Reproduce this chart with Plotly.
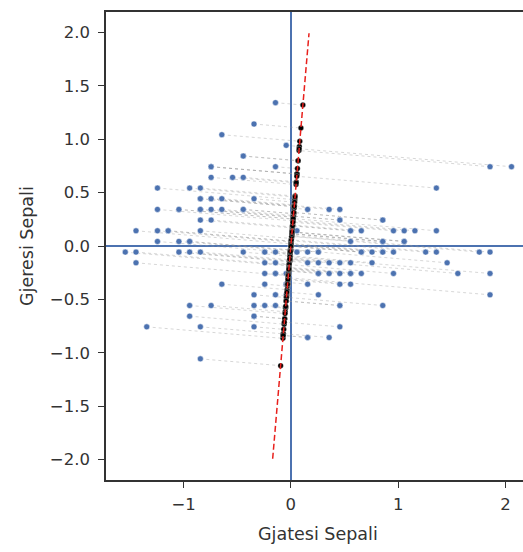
import numpy as np
import plotly.graph_objects as go

# Iris sepal measurements (cm)
sepal_length = [
    5.1, 4.9, 4.7, 4.6, 5.0, 5.4, 4.6, 5.0, 4.4, 4.9, 5.4, 4.8, 4.8, 4.3, 5.8, 5.7, 5.4, 5.1, 5.7, 5.1,
    5.4, 5.1, 4.6, 5.1, 4.8, 5.0, 5.0, 5.2, 5.2, 4.7, 4.8, 5.4, 5.2, 5.5, 4.9, 5.0, 5.5, 4.9, 4.4, 5.1,
    5.0, 4.5, 4.4, 5.0, 5.1, 4.8, 5.1, 4.6, 5.3, 5.0,
    7.0, 6.4, 6.9, 5.5, 6.5, 5.7, 6.3, 4.9, 6.6, 5.2, 5.0, 5.9, 6.0, 6.1, 5.6, 6.7, 5.6, 5.8, 6.2, 5.6,
    5.9, 6.1, 6.3, 6.1, 6.4, 6.6, 6.8, 6.7, 6.0, 5.7, 5.5, 5.5, 5.8, 6.0, 5.4, 6.0, 6.7, 6.3, 5.6, 5.5,
    5.5, 6.1, 5.8, 5.0, 5.6, 5.7, 5.7, 6.2, 5.1, 5.7,
    6.3, 5.8, 7.1, 6.3, 6.5, 7.6, 4.9, 7.3, 6.7, 7.2, 6.5, 6.4, 6.8, 5.7, 5.8, 6.4, 6.5, 7.7, 7.7, 6.0,
    6.9, 5.6, 7.7, 6.3, 6.7, 7.2, 6.2, 6.1, 6.4, 7.2, 7.4, 7.9, 6.4, 6.3, 6.1, 7.7, 6.3, 6.4, 6.0, 6.9,
    6.7, 6.9, 5.8, 6.8, 6.7, 6.7, 6.3, 6.5, 6.2, 5.9,
]
sepal_width = [
    3.5, 3.0, 3.2, 3.1, 3.6, 3.9, 3.4, 3.4, 2.9, 3.1, 3.7, 3.4, 3.0, 3.0, 4.0, 4.4, 3.9, 3.5, 3.8, 3.8,
    3.4, 3.7, 3.6, 3.3, 3.4, 3.0, 3.4, 3.5, 3.4, 3.2, 3.1, 3.4, 4.1, 4.2, 3.1, 3.2, 3.5, 3.6, 3.0, 3.4,
    3.5, 2.3, 3.2, 3.5, 3.8, 3.0, 3.8, 3.2, 3.7, 3.3,
    3.2, 3.2, 3.1, 2.3, 2.8, 2.8, 3.3, 2.4, 2.9, 2.7, 2.0, 3.0, 2.2, 2.9, 2.9, 3.1, 3.0, 2.7, 2.2, 2.5,
    3.2, 2.8, 2.5, 2.8, 2.9, 3.0, 2.8, 3.0, 2.9, 2.6, 2.4, 2.4, 2.7, 2.7, 3.0, 3.4, 3.1, 2.3, 3.0, 2.5,
    2.6, 3.0, 2.6, 2.3, 2.7, 3.0, 2.9, 2.9, 2.5, 2.8,
    3.3, 2.7, 3.0, 2.9, 3.0, 3.0, 2.5, 2.9, 2.5, 3.6, 3.2, 2.7, 3.0, 2.5, 2.8, 3.2, 3.0, 3.8, 2.6, 2.2,
    3.2, 2.8, 2.8, 2.7, 3.3, 3.2, 2.8, 3.0, 2.8, 3.0, 2.8, 3.8, 2.8, 2.8, 2.6, 3.0, 3.4, 3.1, 3.0, 3.1,
    3.1, 3.1, 2.7, 3.2, 3.3, 3.0, 2.5, 3.0, 3.4, 3.0,
]

# Direction of the projection line (x, y), normalised below
direction = [0.085, 1.0]
line_extent = [-2.0, 2.0]

x = np.array(sepal_length) - np.mean(sepal_length)
y = np.array(sepal_width) - np.mean(sepal_width)
u = np.array(direction) / np.linalg.norm(direction)

# Orthogonal projection of every centred point onto the line
t = x * u[0] + y * u[1]
px, py = t * u[0], t * u[1]

# Connector segments point -> projection (None breaks between segments)
seg_x, seg_y = [], []
for a, b, c, d in zip(x, y, px, py):
    seg_x += [a, c, None]
    seg_y += [b, d, None]

blue = "#4c72b0"
fig = go.Figure()
fig.add_trace(go.Scatter(
    x=seg_x, y=seg_y, mode="lines",
    line=dict(color="rgba(150,150,150,0.38)", width=1, dash="dot"),
    hoverinfo="skip",
))
fig.add_trace(go.Scatter(
    x=x, y=y, mode="markers",
    marker=dict(color=blue, size=6, line=dict(color="white", width=0.5)),
))
fig.add_trace(go.Scatter(
    x=px, y=py, mode="markers",
    marker=dict(color="black", size=5.5, line=dict(color="white", width=0.3)),
))
fig.add_trace(go.Scatter(
    x=[line_extent[0] * u[0], line_extent[1] * u[0]],
    y=[line_extent[0] * u[1], line_extent[1] * u[1]],
    mode="lines",
    line=dict(color="#e8201c", width=1.5, dash="6px,3px"),
))

axis_font = dict(family="DejaVu Sans", size=16.5, color="#333333")
fig.update_layout(
    width=523, height=552,
    margin=dict(l=106, r=0, t=12, b=72),
    paper_bgcolor="white", plot_bgcolor="white",
    showlegend=False,
    font=dict(family="DejaVu Sans", color="#333333"),
    xaxis=dict(
        range=[-1.723, 2.164], tickmode="array", tickvals=[-1, 0, 1, 2],
        showgrid=False, zeroline=True, zerolinecolor=blue, zerolinewidth=2,
        showline=True, linecolor="#333333", linewidth=1.5, mirror=True,
        ticks="outside", ticklen=6, tickwidth=1.3, tickcolor="#333333",
        tickfont=axis_font, ticklabelstandoff=2,
    ),
    yaxis=dict(
        range=[-2.192, 2.192], tickmode="array",
        tickvals=[-2.0, -1.5, -1.0, -0.5, 0.0, 0.5, 1.0, 1.5, 2.0],
        tickformat=".1f",
        showgrid=False, zeroline=True, zerolinecolor=blue, zerolinewidth=2,
        showline=True, linecolor="#333333", linewidth=1.5, mirror=False,
        ticks="outside", ticklen=6, tickwidth=1.3, tickcolor="#333333",
        tickfont=axis_font, ticklabelstandoff=5,
    ),
    annotations=[
        dict(text="Gjatesi Sepali", xref="paper", yref="paper", x=0.508, y=0,
             yshift=-54, showarrow=False, yanchor="middle",
             font=dict(family="DejaVu Sans", size=17.5, color="#333333")),
        dict(text="Gjeresi Sepali", xref="paper", yref="paper", x=0, y=0.5,
             xshift=-79, showarrow=False, textangle=-90, xanchor="center",
             font=dict(family="DejaVu Sans", size=17.5, color="#333333")),
    ],
)
fig.write_html("out.html")
